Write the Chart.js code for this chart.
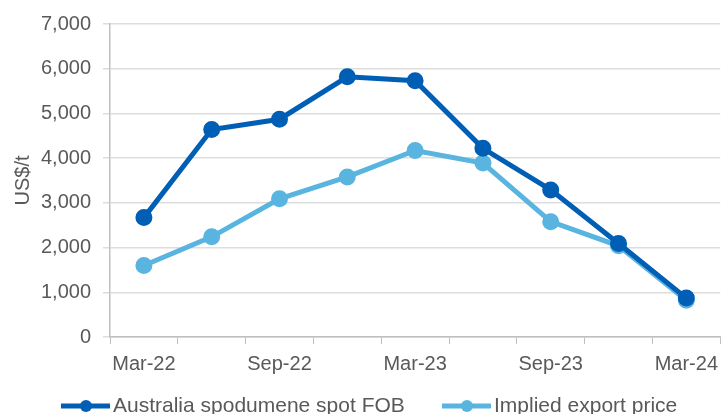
<!DOCTYPE html>
<html lang="en">
<head>
  <meta charset="UTF-8">
  <title>Spodumene prices</title>
  <script src="https://cdn.jsdelivr.net/npm/chart.js"></script>
  <style>
    html, body { margin: 0; padding: 0; background: #fff; }
    #wrap { width: 726px; height: 414px; }
  </style>
</head>
<body>
  <div id="wrap"><canvas id="priceChart"></canvas></div>

  <script>
    // quarterly data, US$/t
    const quarters = ['Mar-22', 'Jun-22', 'Sep-22', 'Dec-22', 'Mar-23', 'Jun-23', 'Sep-23', 'Dec-23', 'Mar-24'];
    const spotFob = [2670, 4640, 4870, 5820, 5730, 4220, 3290, 2090, 870];
    const exportPrice = [1600, 2240, 3090, 3580, 4170, 3890, 2580, 2040, 820];
    const yTicks = [0, 1000, 2000, 3000, 4000, 5000, 6000, 7000];

    const DARK = '#005EB5';
    const LIGHT = '#5AB4E0';
    const TEXT = '#595959';
    const FONT = 'Liberation Sans, Arial, sans-serif';

    // legend drawn by hand: line with a dot in the middle
    const lineLegend = {
      id: 'lineLegend',
      afterDraw(chart) {
        const c = chart.ctx;
        const y = chart.height - 8;
        const starts = [61, 442];
        c.save();
        c.font = '21px ' + FONT;
        c.textBaseline = 'middle';
        chart.data.datasets.forEach((ds, i) => {
          const x = starts[i];
          c.strokeStyle = ds.borderColor;
          c.lineWidth = 5;
          c.beginPath();
          c.moveTo(x, y);
          c.lineTo(x + 49, y);
          c.stroke();
          c.fillStyle = ds.borderColor;
          c.beginPath();
          c.arc(x + 25, y, 6, 0, Math.PI * 2);
          c.fill();
          c.fillStyle = TEXT;
          c.fillText(ds.label, x + 52, y);
        });
        c.restore();
      }
    };

    const ctx = document.getElementById('priceChart').getContext('2d');
    new Chart(ctx, {
      type: 'line',
      data: {
        labels: quarters,
        datasets: [
          {
            label: 'Australia spodumene spot FOB',
            data: spotFob,
            borderColor: DARK,
            backgroundColor: DARK,
            borderWidth: 5,
            pointRadius: 6,
            pointHoverRadius: 6,
            tension: 0
          },
          {
            label: 'Implied export price',
            data: exportPrice,
            borderColor: LIGHT,
            backgroundColor: LIGHT,
            borderWidth: 5,
            pointRadius: 6,
            pointHoverRadius: 6,
            tension: 0
          }
        ]
      },
      options: {
        responsive: true,
        maintainAspectRatio: false,
        animation: false,
        layout: { autoPadding: false, padding: { top: 22, right: 0, bottom: 37, left: 0 } },
        plugins: {
          legend: { display: false },
          tooltip: { enabled: false }
        },
        scales: {
          x: {
            offset: true,
            grid: { offset: true, drawOnChartArea: false, drawTicks: true, tickLength: 7, color: '#BFBFBF' },
            border: { color: '#BFBFBF', width: 1.5 },
            ticks: {
              autoSkip: false,
              maxRotation: 0,
              color: TEXT,
              font: { family: FONT, size: 20 },
              padding: 8,
              callback: (v, i) => (i % 2 === 0 ? quarters[i] : '')
            },
            afterFit: s => { s.height = 40; }
          },
          y: {
            min: 0,
            max: 7000,
            afterBuildTicks: s => { s.ticks = yTicks.map(v => ({ value: v })); },
            grid: { color: '#DDDDDD', lineWidth: 1.5, tickLength: 7, drawTicks: true },
            border: { color: '#BFBFBF', width: 1.5 },
            ticks: {
              color: TEXT,
              font: { family: FONT, size: 20 },
              padding: 12,
              callback: v => v.toLocaleString('en-US')
            },
            title: {
              display: true,
              text: 'US$/t',
              color: TEXT,
              font: { family: FONT, size: 20 },
              padding: { top: 11, bottom: 0 }
            },
            afterFit: s => { s.width = 110; }
          }
        }
      },
      plugins: [lineLegend]
    });
  </script>
</body>
</html>
